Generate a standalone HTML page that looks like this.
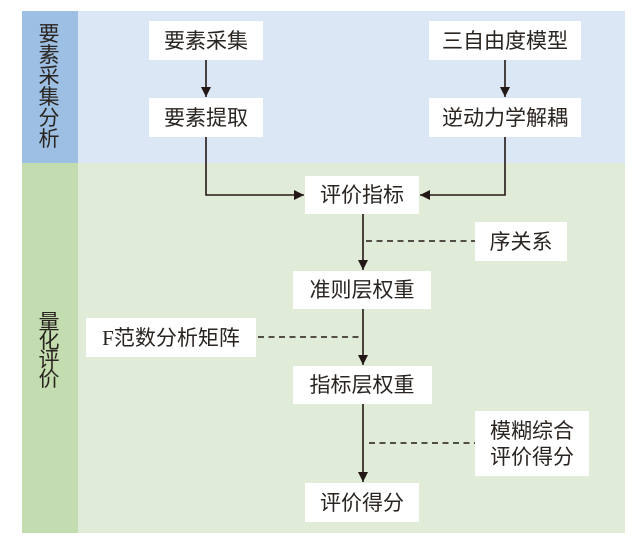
<!DOCTYPE html>
<html><head><meta charset="utf-8"><style>
html,body{margin:0;padding:0;background:#fff;}
svg{display:block;}
text{font-family:"Liberation Serif","Noto Sans CJK SC",sans-serif;font-size:21px;fill:#2a2420;}
</style></head><body>
<svg width="638" height="549" viewBox="0 0 638 549" xmlns="http://www.w3.org/2000/svg">
<defs>
<marker id="ah" markerWidth="10" markerHeight="12" refX="10" refY="5" orient="auto" markerUnits="userSpaceOnUse">
<path d="M0,0 L10,5 L0,10 Z" fill="#231815"/>
</marker>
</defs>
<rect x="0" y="0" width="638" height="549" fill="#fff"/>
<rect x="22" y="11" width="56" height="152" fill="#9dbfe3"/>
<rect x="78" y="11" width="547" height="152" fill="#dbe7f4"/>
<rect x="22" y="163" width="56" height="370" fill="#c3ddb0"/>
<rect x="78" y="163" width="547" height="370" fill="#e0ecd8"/>

<g text-anchor="middle" dominant-baseline="central" style="font-size:20px">
<text x="49" y="34">要</text>
<text x="49" y="55">素</text>
<text x="49" y="76">采</text>
<text x="49" y="97">集</text>
<text x="49" y="118">分</text>
<text x="49" y="139">析</text>
<text x="49" y="322">量</text>
<text x="49" y="341">化</text>
<text x="49" y="360">评</text>
<text x="49" y="379">价</text>
</g>

<g fill="#fff">
<rect x="149" y="21" width="114" height="39"/>
<rect x="149" y="98" width="114" height="39"/>
<rect x="429" y="21" width="152" height="39"/>
<rect x="429" y="98" width="152" height="39"/>
<rect x="305" y="176" width="114" height="38"/>
<rect x="475" y="222" width="92" height="39"/>
<rect x="293" y="271" width="138" height="38"/>
<rect x="86" y="318" width="170" height="39"/>
<rect x="293" y="366" width="139" height="38"/>
<rect x="475" y="411" width="114" height="65"/>
<rect x="305" y="483" width="114" height="39"/>
</g>

<g text-anchor="middle" dominant-baseline="central">
<text x="206" y="41">要素采集</text>
<text x="206" y="118">要素提取</text>
<text x="505" y="41">三自由度模型</text>
<text x="505" y="118">逆动力学解耦</text>
<text x="362" y="195">评价指标</text>
<text x="521" y="242">序关系</text>
<text x="362" y="290">准则层权重</text>
<text x="171" y="338">F范数分析矩阵</text>
<text x="362" y="385">指标层权重</text>
<text x="532" y="431">模糊综合</text>
<text x="532" y="457">评价得分</text>
<text x="362" y="503">评价得分</text>
</g>

<g stroke="#231815" stroke-width="1.6" fill="none">
<line x1="206" y1="60" x2="206" y2="97" marker-end="url(#ah)"/>
<line x1="505" y1="60" x2="505" y2="97" marker-end="url(#ah)"/>
<polyline points="206,137 206,195 304,195" marker-end="url(#ah)"/>
<polyline points="505,137 505,195 420,195" marker-end="url(#ah)"/>
<line x1="363" y1="214" x2="363" y2="270" marker-end="url(#ah)"/>
<line x1="363" y1="309" x2="363" y2="365" marker-end="url(#ah)"/>
<line x1="363" y1="404" x2="363" y2="482" marker-end="url(#ah)"/>
</g>
<g stroke="#231815" stroke-width="1.4" stroke-dasharray="6,4.5" fill="none">
<line x1="366" y1="241" x2="475" y2="241"/>
<line x1="258" y1="337" x2="362" y2="337"/>
<line x1="369" y1="443" x2="475" y2="443"/>
</g>
</svg>
</body></html>
